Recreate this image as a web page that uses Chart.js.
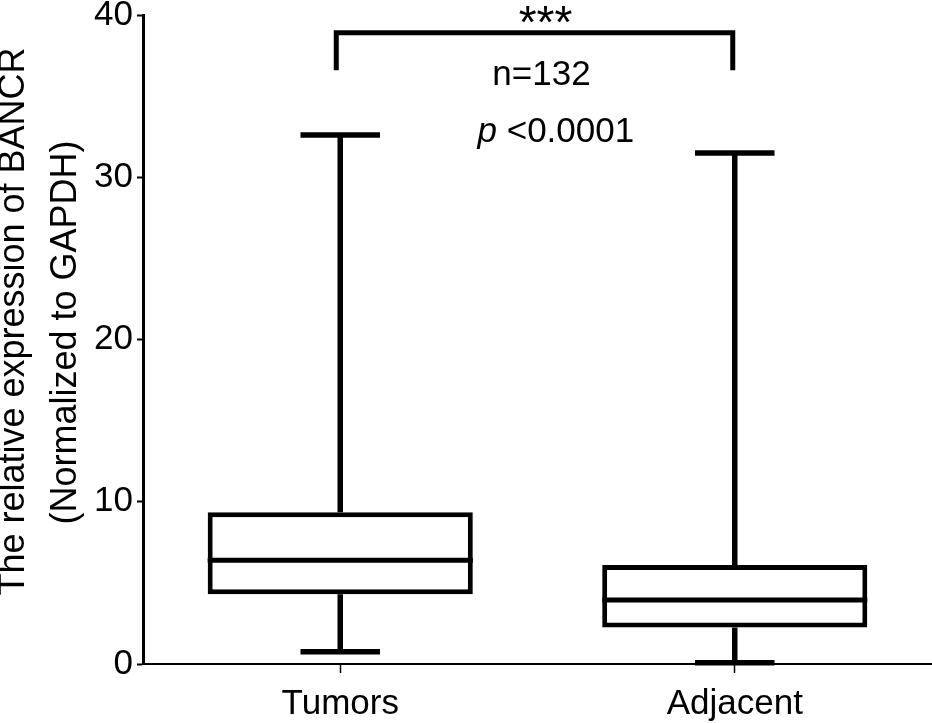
<!DOCTYPE html>
<html lang="en">
<head>
  <meta charset="UTF-8">
  <title>BANCR expression</title>
  <script src="https://cdn.jsdelivr.net/npm/chart.js"></script>
  <style>
    html, body { margin: 0; padding: 0; background: #fff; }
    canvas { display: block; }
  </style>
</head>
<body>
  <canvas id="boxChart" width="932" height="723"></canvas>

  <script>
    // Data
    const categories = ['Tumors', 'Adjacent'];
    const whiskerMin = [0.75, 0.08];
    const q1 = [4.3, 2.25];
    const median = [6.4, 3.95];
    const q3 = [9.35, 6.1];
    const whiskerMax = [32.6, 31.5];
    const yTicks = [0, 10, 20, 30, 40];
    const yTitle = ['The relative expression of BANCR', '(Normalized to GAPDH)'];

    // significance annotation (y in data units)
    const sigLabel = '***';
    const nLabel = 'n=132';
    const pLabel = ' <0.0001';
    const bracketTop = 38.9;
    const bracketArm = 36.6;

    const FONT = "'Liberation Sans', Arial, sans-serif";

    // whiskers + median lines on top of the floating bars
    const whiskerPlugin = {
      id: 'whiskers',
      afterDatasetsDraw(chart) {
        const { ctx } = chart;
        const y = chart.scales.y;
        const meta = chart.getDatasetMeta(0);
        ctx.save();
        ctx.strokeStyle = '#000';
        ctx.lineWidth = 5.5;
        ctx.lineCap = 'butt';
        meta.data.forEach((bar, i) => {
          const x = bar.x;
          const half = bar.width / 2;
          const cap = bar.width * 0.15;
          const yMin = y.getPixelForValue(whiskerMin[i]);
          const yMax = y.getPixelForValue(whiskerMax[i]);
          const yQ1 = y.getPixelForValue(q1[i]);
          const yQ3 = y.getPixelForValue(q3[i]);
          const yMed = y.getPixelForValue(median[i]);
          ctx.beginPath();
          ctx.moveTo(x, yQ3); ctx.lineTo(x, yMax);
          ctx.moveTo(x, yQ1); ctx.lineTo(x, yMin);
          ctx.moveTo(x - cap, yMax); ctx.lineTo(x + cap, yMax);
          ctx.moveTo(x - cap, yMin); ctx.lineTo(x + cap, yMin);
          ctx.stroke();
          ctx.lineWidth = 5;
          ctx.beginPath();
          ctx.moveTo(x - half, yMed); ctx.lineTo(x + half, yMed);
          ctx.stroke();
          ctx.lineWidth = 5.5;
        });
        ctx.restore();
      }
    };

    // bracket, stats text and the two-line y title
    const annotationPlugin = {
      id: 'annotations',
      afterDraw(chart) {
        const { ctx, chartArea } = chart;
        const x = chart.scales.x;
        const y = chart.scales.y;
        const x0 = x.getPixelForValue(0);
        const x1 = x.getPixelForValue(1);
        const mid = (x0 + x1) / 2;
        ctx.save();
        ctx.strokeStyle = '#000';
        ctx.fillStyle = '#000';
        ctx.lineWidth = 5;
        ctx.lineJoin = 'miter';
        ctx.beginPath();
        ctx.moveTo(x0 - 4, y.getPixelForValue(bracketArm));
        ctx.lineTo(x0 - 4, y.getPixelForValue(bracketTop));
        ctx.lineTo(x1 - 2, y.getPixelForValue(bracketTop));
        ctx.lineTo(x1 - 2, y.getPixelForValue(bracketArm));
        ctx.stroke();

        ctx.textBaseline = 'alphabetic';
        ctx.textAlign = 'center';
        ctx.font = '46px ' + FONT;
        ctx.fillText(sigLabel, mid + 8, y.getPixelForValue(38.58));
        ctx.font = '35px ' + FONT;
        ctx.fillText(nLabel, mid + 4, y.getPixelForValue(35.69));

        ctx.textAlign = 'left';
        const py = y.getPixelForValue(32.17);
        ctx.font = 'italic 35px ' + FONT;
        const px = mid - 60;
        ctx.fillText('p', px, py);
        const pw = ctx.measureText('p').width;
        ctx.font = '35px ' + FONT;
        ctx.fillText(pLabel, px + pw, py);

        // y axis title, rotated
        const cy = (chartArea.top + chartArea.bottom) / 2;
        ctx.textAlign = 'center';
        ctx.textBaseline = 'middle';
        ctx.font = '36px ' + FONT;
        [[14.5, cy - 18], [66, cy - 7]].forEach(([tx, ty], i) => {
          ctx.save();
          ctx.translate(tx, ty);
          ctx.rotate(-Math.PI / 2);
          ctx.fillText(yTitle[i], 0, 0);
          ctx.restore();
        });
        ctx.restore();
      }
    };

    const ctx = document.getElementById('boxChart').getContext('2d');
    new Chart(ctx, {
      type: 'bar',
      data: {
        labels: categories,
        datasets: [{
          data: categories.map((c, i) => [q1[i], q3[i]]),
          backgroundColor: '#fff',
          borderColor: '#000',
          borderWidth: 5,
          borderSkipped: false,
          barPercentage: 0.672,
          categoryPercentage: 1,
        }],
      },
      options: {
        responsive: false,
        devicePixelRatio: 1,
        animation: false,
        layout: { padding: { top: 15, right: 0, left: 0, bottom: 0 } },
        plugins: {
          legend: { display: false },
          tooltip: { enabled: false },
        },
        scales: {
          x: {
            offset: true,
            grid: {
              offset: false,
              drawOnChartArea: false,
              tickLength: 9,
              tickWidth: 1.5,
              color: '#000',
            },
            border: { color: '#000', width: 2 },
            ticks: {
              color: '#000',
              padding: 10,
              font: { family: FONT, size: 35 },
            },
            afterFit(scale) {
              scale.height = 59;
              scale.paddingLeft = 0;
              scale.paddingRight = 0;
            },
          },
          y: {
            min: yTicks[0],
            max: yTicks[yTicks.length - 1],
            afterBuildTicks(scale) { scale.ticks = yTicks.map(v => ({ value: v })); },
            grid: {
              drawOnChartArea: false,
              tickLength: 6,
              tickWidth: 2,
              color: '#000',
            },
            border: { color: '#000', width: 3 },
            ticks: {
              color: '#000',
              padding: 4,
              font: { family: FONT, size: 35 },
            },
            afterFit(scale) {
              scale.width = 143;
              scale.paddingTop = 0;
              scale.paddingBottom = 0;
            },
          },
        },
      },
      plugins: [whiskerPlugin, annotationPlugin],
    });
  </script>
</body>
</html>
